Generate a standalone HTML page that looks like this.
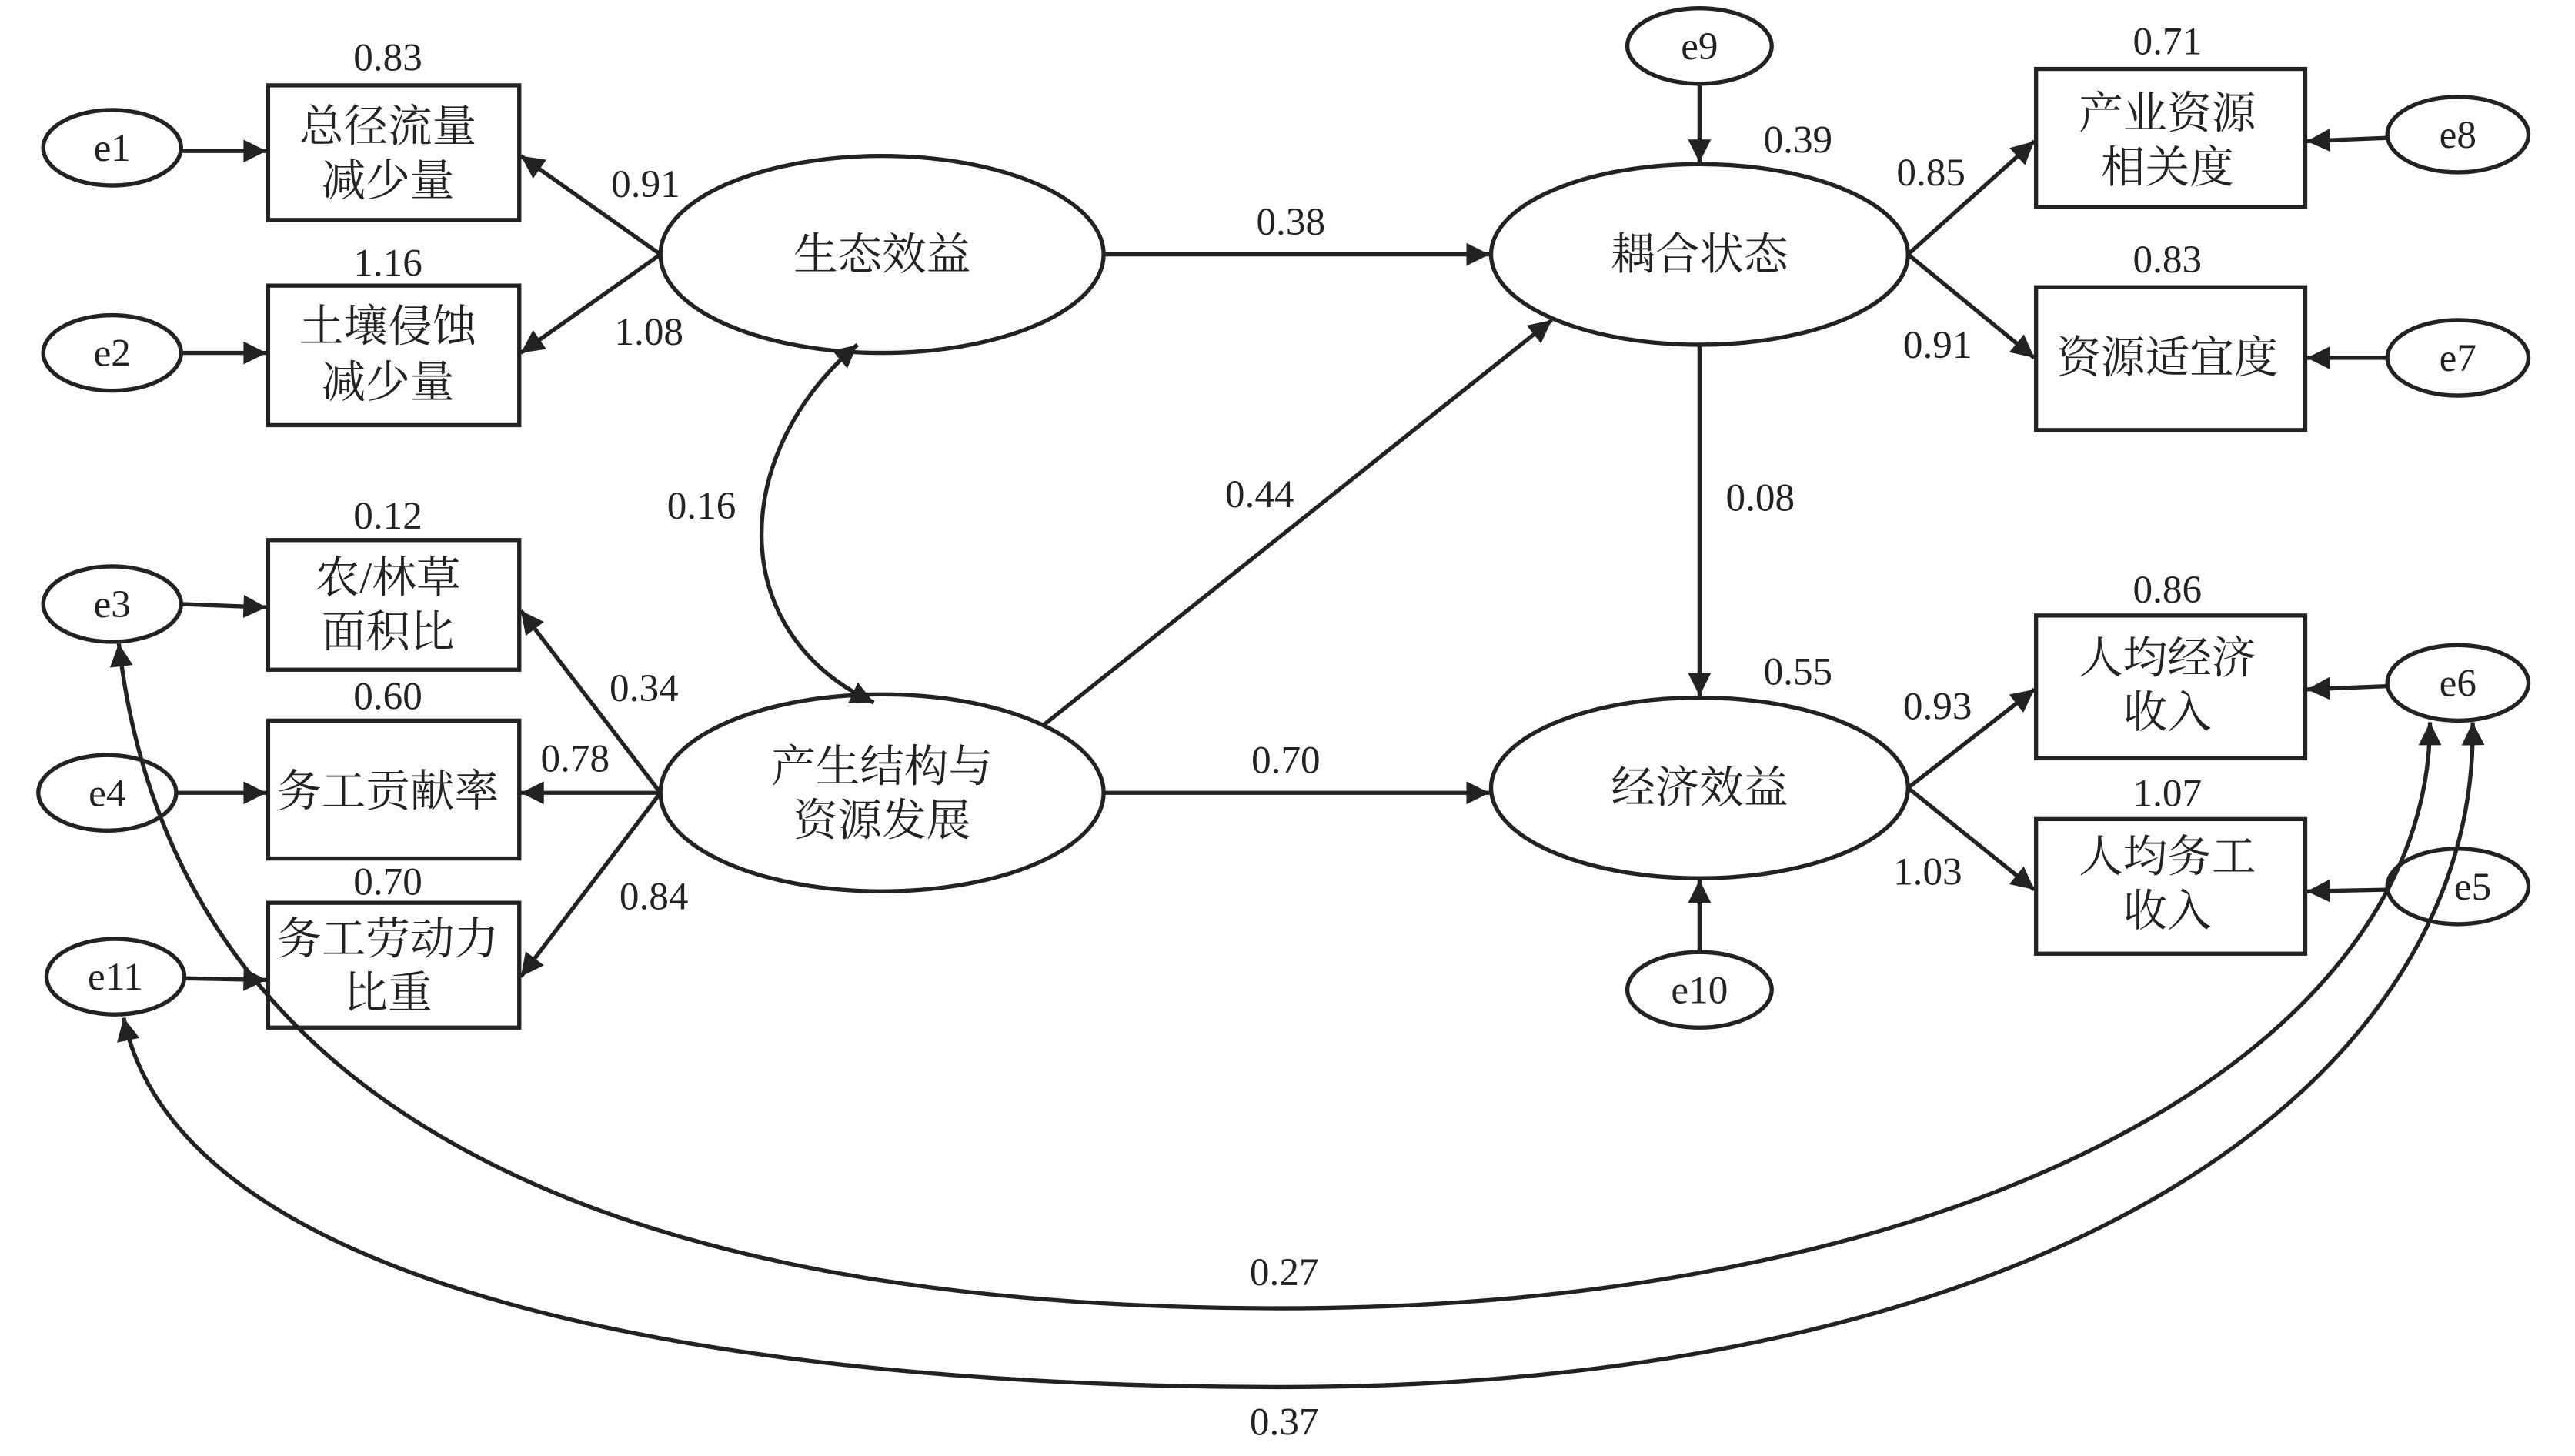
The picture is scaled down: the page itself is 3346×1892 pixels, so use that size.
<!DOCTYPE html>
<html><head><meta charset="utf-8">
<style>
html,body{margin:0;padding:0;background:#fff;}
svg{display:block;}
text{font-family:"Liberation Serif","Noto Serif CJK SC","Noto Sans CJK SC",serif;fill:#222;}
</style></head><body>
<svg width="3346" height="1892" viewBox="0 0 1568 887" xmlns="http://www.w3.org/2000/svg">
<defs>
<marker id="b" viewBox="0 0 10 10" refX="10" refY="5" markerWidth="16" markerHeight="14" orient="auto-start-reverse" markerUnits="userSpaceOnUse">
<path d="M0,0 L10,5 L0,10 z" fill="#222"/></marker>
</defs>
<rect width="1568" height="887" fill="#fff"/>
<g stroke="#222" stroke-width="2.5" fill="none">
<ellipse cx="68" cy="90" rx="42" ry="23"/>
<ellipse cx="68" cy="215" rx="42" ry="23"/>
<ellipse cx="68" cy="368" rx="42" ry="23"/>
<ellipse cx="65" cy="483" rx="42" ry="23"/>
<ellipse cx="70" cy="595" rx="42" ry="23"/>
<ellipse cx="1035" cy="28" rx="44" ry="23"/>
<ellipse cx="1035" cy="603" rx="44" ry="23"/>
<ellipse cx="1497" cy="82" rx="43" ry="23"/>
<ellipse cx="1497" cy="218" rx="43" ry="23"/>
<ellipse cx="1497" cy="416" rx="43" ry="23"/>
<ellipse cx="1497" cy="540" rx="43" ry="23"/>
<rect x="163" y="52" width="153" height="82"/>
<rect x="163" y="174" width="153" height="85"/>
<rect x="163" y="329" width="153" height="79"/>
<rect x="163" y="439" width="153" height="84"/>
<rect x="163" y="550" width="153" height="76"/>
<rect x="1240" y="42" width="164" height="84"/>
<rect x="1240" y="175" width="164" height="87"/>
<rect x="1240" y="375" width="164" height="87"/>
<rect x="1240" y="499" width="164" height="82"/>
<ellipse cx="537" cy="155" rx="135" ry="60"/>
<ellipse cx="537" cy="483" rx="135" ry="60"/>
<ellipse cx="1035" cy="155" rx="127" ry="55"/>
<ellipse cx="1035" cy="480" rx="127" ry="55"/>
</g>
<g stroke="#222" stroke-width="2.5" fill="none" marker-end="url(#b)">
<line x1="110" y1="92" x2="162" y2="92"/>
<line x1="110" y1="215" x2="162" y2="215"/>
<line x1="110" y1="368" x2="162" y2="370"/>
<line x1="107" y1="483" x2="162" y2="483"/>
<line x1="112" y1="596" x2="162" y2="597"/>
<line x1="1035" y1="51" x2="1035" y2="99"/>
<line x1="1035" y1="580" x2="1035" y2="536"/>
<line x1="1454" y1="84" x2="1405" y2="86"/>
<line x1="1454" y1="218" x2="1405" y2="218"/>
<line x1="1454" y1="418" x2="1405" y2="420"/>
<line x1="1454" y1="542" x2="1405" y2="543"/>
<line x1="402" y1="155" x2="317" y2="95"/>
<line x1="402" y1="155" x2="317" y2="215"/>
<line x1="402" y1="483" x2="317" y2="372"/>
<line x1="402" y1="483" x2="317" y2="483"/>
<line x1="402" y1="483" x2="317" y2="595"/>
<line x1="672" y1="155" x2="907" y2="155"/>
<line x1="672" y1="483" x2="907" y2="483"/>
<line x1="635" y1="442" x2="945" y2="195"/>
<line x1="1035" y1="210" x2="1035" y2="424"/>
<line x1="1162" y1="155" x2="1239" y2="86"/>
<line x1="1162" y1="155" x2="1239" y2="218"/>
<line x1="1162" y1="480" x2="1239" y2="420"/>
<line x1="1162" y1="480" x2="1239" y2="542"/>
</g>
<g stroke="#222" stroke-width="2.5" fill="none" marker-end="url(#b)" marker-start="url(#b)">
<path d="M522,210 C445,275 440,385 532,428"/>
<path d="M72,392 C110,720 450,797 780,797 C1200,797 1480,640 1480,440"/>
<path d="M75,620 C110,790 450,845 780,845 C1250,845 1510,660 1506,440"/>
</g>
<g font-size="24" text-anchor="middle">
<text x="68" y="98">e1</text><text x="68" y="223">e2</text><text x="68" y="376">e3</text>
<text x="65" y="491">e4</text><text x="70" y="603">e11</text><text x="1035" y="36">e9</text>
<text x="1035" y="611">e10</text><text x="1497" y="90">e8</text><text x="1497" y="226">e7</text>
<text x="1497" y="424">e6</text><text x="1506" y="548">e5</text>
<text x="236" y="43">0.83</text><text x="236" y="168">1.16</text><text x="236" y="322">0.12</text>
<text x="236" y="432">0.60</text><text x="236" y="545">0.70</text>
<text x="1320" y="33">0.71</text><text x="1320" y="166">0.83</text><text x="1320" y="367">0.86</text>
<text x="1320" y="491">1.07</text>
<text x="393" y="120">0.91</text><text x="395" y="210">1.08</text><text x="392" y="427">0.34</text>
<text x="350" y="470">0.78</text><text x="398" y="554">0.84</text><text x="427" y="316">0.16</text>
<text x="786" y="143">0.38</text><text x="767" y="309">0.44</text><text x="783" y="471">0.70</text>
<text x="1095" y="93">0.39</text><text x="1072" y="311">0.08</text><text x="1095" y="417">0.55</text>
<text x="1176" y="113">0.85</text><text x="1180" y="218">0.91</text><text x="1180" y="438">0.93</text>
<text x="1174" y="539">1.03</text>
<text x="782" y="783">0.27</text><text x="782" y="874">0.37</text>
</g>
<g font-size="27" text-anchor="middle">
<text x="236" y="86">总径流量</text><text x="236" y="119">减少量</text>
<text x="236" y="208">土壤侵蚀</text><text x="236" y="242">减少量</text>
<text x="236" y="361">农/林草</text><text x="236" y="394">面积比</text>
<text x="236" y="491">务工贡献率</text>
<text x="236" y="581">务工劳动力</text><text x="236" y="614">比重</text>
<text x="1320" y="78">产业资源</text><text x="1320" y="111">相关度</text>
<text x="1320" y="227">资源适宜度</text>
<text x="1320" y="410">人均经济</text><text x="1320" y="443">收入</text>
<text x="1320" y="531">人均务工</text><text x="1320" y="564">收入</text>
<text x="537" y="164">生态效益</text>
<text x="537" y="476">产生结构与</text><text x="537" y="509">资源发展</text>
<text x="1035" y="164">耦合状态</text>
<text x="1035" y="489">经济效益</text>
</g>
</svg>
</body></html>
